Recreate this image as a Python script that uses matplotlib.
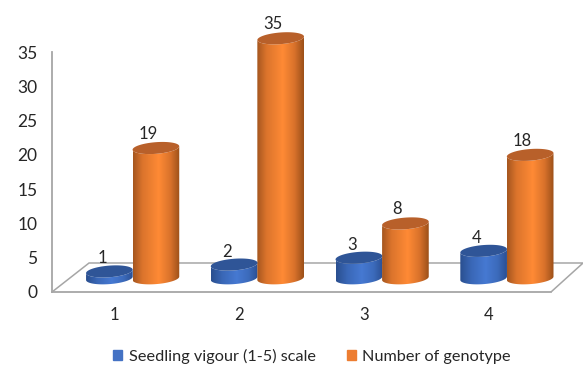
import numpy as np
import matplotlib
matplotlib.use("Agg")
import matplotlib.pyplot as plt
from matplotlib.colors import LinearSegmentedColormap
from matplotlib.patches import Patch, PathPatch, Polygon
from matplotlib.path import Path

plt.rcParams['font.family'] = ['Lato', 'DejaVu Sans']

# Data
categories = [1, 2, 3, 4]
seedling_vigour = [1, 2, 3, 4]
num_genotype = [19, 35, 8, 18]
y_ticks = [0, 5, 10, 15, 20, 25, 30, 35]
series_names = ['Seedling vigour (1-5) scale', 'Number of genotype']

BLUE = '#4472C4'
ORANGE = '#ED7D31'
TEXT = '#262626'
AXIS = '#A6A6A6'

# Fake 3D look: floor depth and cylinder shape, all in axis units
FLOOR_LEFT = 0.297
FLOOR_RIGHT = 0.257
FLOOR_Y = 4.23
BASE = 2.0
RADIUS = 0.187
ELL_H = 0.85
TILT = 0.25

blue_shade = LinearSegmentedColormap.from_list(
    'blue_shade', [(0, '#2A4F8F'), (0.25, '#3A68B8'), (0.55, '#4679D2'), (0.8, '#3C6BBC'), (1, '#2B5094')])
orange_shade = LinearSegmentedColormap.from_list(
    'orange_shade', [(0, '#A5561F'), (0.2, '#DB742C'), (0.55, '#FF8A35'), (0.8, '#D9722B'), (1, '#9C5019')])


def cylinder(ax, xc, value, cmap, top_color):
    t = np.linspace(0, np.pi, 60)
    top_y = BASE + value
    # body: front half of the bottom rim, then front half of the top rim
    bx = xc - RADIUS * np.cos(t)
    by = BASE - ELL_H * np.sin(t) + TILT * np.cos(-t + np.pi)
    tx = xc + RADIUS * np.cos(t)
    ty = top_y - ELL_H * np.sin(t) + TILT * np.cos(t)
    verts = np.column_stack([np.r_[bx, tx], np.r_[by, ty]])
    body = PathPatch(Path(np.vstack([verts, verts[0]])), transform=ax.transData,
                     fc='none', ec='none')
    ax.add_patch(body)
    grad = np.linspace(0, 1, 128).reshape(1, -1)
    im = ax.imshow(grad, cmap=cmap, aspect='auto', interpolation='bilinear', zorder=3,
                   extent=[xc - RADIUS, xc + RADIUS, BASE - ELL_H - 1, top_y + ELL_H + 1])
    im.set_clip_path(body)
    # lid
    a = np.linspace(0, 2 * np.pi, 120)
    lid = Polygon(np.column_stack([xc + RADIUS * np.cos(a),
                                   top_y + ELL_H * np.sin(a) + TILT * np.cos(a)]),
                  closed=True, fc=top_color, ec='none', zorder=3.1)
    ax.add_patch(lid)


fig = plt.figure(figsize=(5.83, 3.65), dpi=100)
ax = fig.add_axes([52 / 583, 73 / 365, 531 / 583, 292 / 365])

x = np.array(categories, dtype=float)

# floor of the plot area
floor_x = [0.5, 0.5 + FLOOR_LEFT, 4.5 + FLOOR_RIGHT, 4.5]
floor_y = [0, FLOOR_Y, FLOOR_Y, 0]
ax.plot(floor_x, floor_y, color=AXIS, lw=1.1, zorder=1, solid_joinstyle='miter')

for i, c in enumerate(x):
    cylinder(ax, c - 0.04, seedling_vigour[i], blue_shade, '#2F5597')
    cylinder(ax, c + 0.333, num_genotype[i], orange_shade, '#B8602A')
    ax.annotate(str(seedling_vigour[i]), (c - 0.04, BASE + seedling_vigour[i]),
                xytext=(-7, 13), textcoords='offset pixels', ha='center', va='center',
                fontsize=12, color=TEXT, zorder=5)
    ax.annotate(str(num_genotype[i]), (c + 0.333, BASE + num_genotype[i]),
                xytext=(-8, 14), textcoords='offset pixels', ha='center', va='center',
                fontsize=12, color=TEXT, zorder=5)

ax.set_xlim(0.5, 0.5 + 531 / 124.75)
ax.set_ylim(0, 292 / 6.857)

ax.spines['top'].set_visible(False)
ax.spines['right'].set_visible(False)
ax.spines['left'].set_bounds(0, 35)
ax.spines['bottom'].set_bounds(0.5, 4.5)
for s in ['left', 'bottom']:
    ax.spines[s].set_color(AXIS)
    ax.spines[s].set_linewidth(1.3)

ax.set_yticks(y_ticks)
ax.set_xticks(categories)
ax.tick_params(axis='y', length=0, pad=10.5, labelsize=12.5, labelcolor=TEXT)
ax.tick_params(axis='x', length=0, pad=10.5, labelsize=12, labelcolor=TEXT)
ax.patch.set_alpha(0)

handles = [Patch(color=BLUE, label=series_names[0]), Patch(color=ORANGE, label=series_names[1])]
fig.legend(handles=handles, ncol=2, frameon=False, loc='center', bbox_to_anchor=(312 / 583, 1 - 356 / 365),
           fontsize=11.7, labelcolor=TEXT, handlelength=0.55, handleheight=0.55,
           handletextpad=0.4, columnspacing=1.9)

fig.savefig('out.png', dpi=100, facecolor='white')
